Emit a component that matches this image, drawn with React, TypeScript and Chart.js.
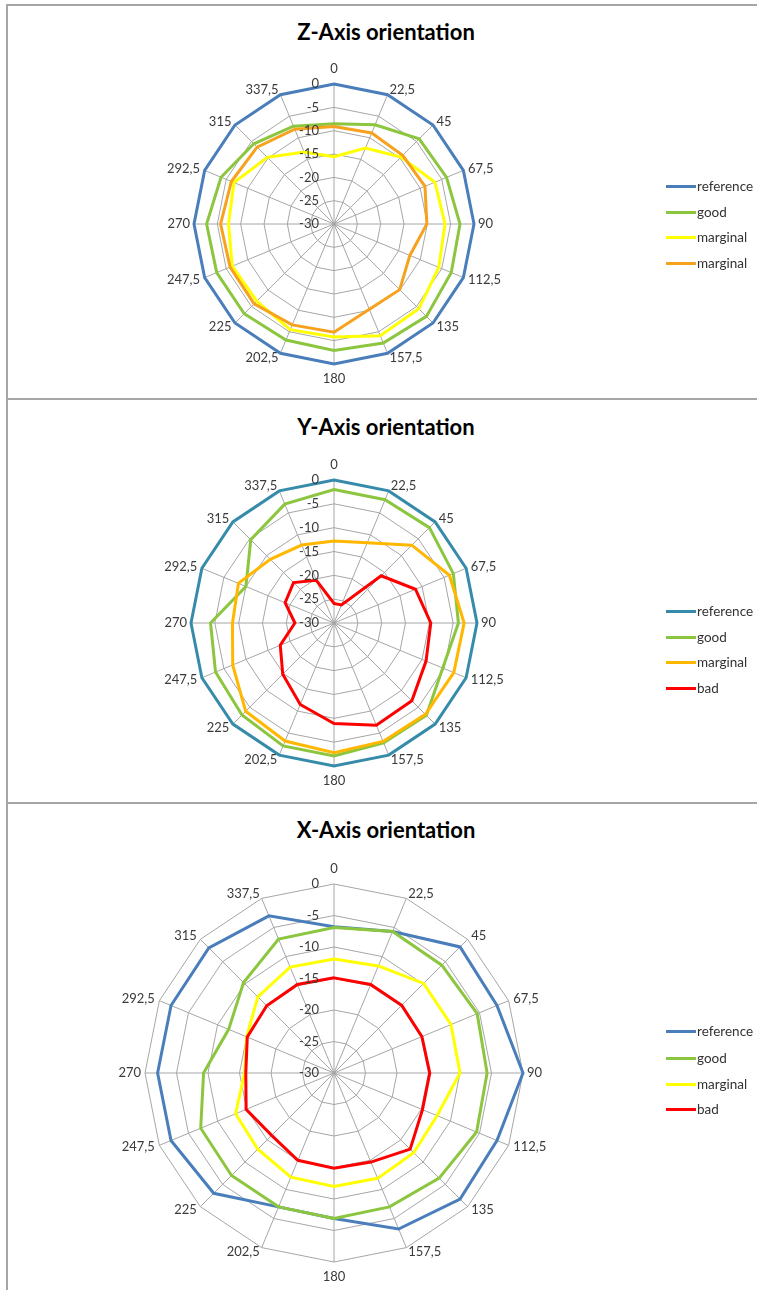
import React, { useEffect, useRef } from "react";
import { Chart, registerables } from "chart.js";

Chart.register(...registerables);

// ---------- data ----------
const angleLabels = ["0", "22,5", "45", "67,5", "90", "112,5", "135", "157,5", "180", "202,5", "225", "247,5", "270", "292,5", "315", "337,5"];

const zReference = [0, 0, 0, 0, 0, 0, 0, 0, 0, 0, 0, 0, 0, 0, 0, 0];
const zGood = [-8.5, -7.0, -4.2, -3.9, -3.0, -2.8, -2.0, -2.4, -2.9, -3.1, -2.8, -2.8, -2.7, -3.8, -5.7, -7.3];
const zMarginalYellow = [-15.6, -12.4, -9.7, -6.6, -6.2, -5.7, -4.3, -4.1, -5.8, -5.5, -6.6, -6.4, -7.4, -6.8, -9.8, -13.3];
const zMarginalOrange = [-9.1, -8.9, -9.2, -8.9, -10.1, -12.4, -10.1, -10.2, -6.8, -6.6, -5.8, -5.9, -5.7, -6.2, -6.7, -8.0];

const yReference = [0, 0, 0, 0, 0, 0, 0, 0, 0, 0, 0, 0, 0, 0, 0, 0];
const yGood = [-2.0, -2.0, -1.7, -2.9, -3.9, -5.3, -2.6, -2.8, -2.1, -2.1, -2.7, -3.1, -4.1, -10.0, -5.3, -3.0];
const yMarginal = [-12.8, -11.8, -6.9, -3.8, -2.7, -2.8, -2.9, -3.1, -2.8, -3.2, -3.8, -7.0, -8.7, -8.3, -11.1, -12.3];
const yBad = [-25.9, -25.9, -16.0, -11.5, -9.7, -9.1, -6.9, -6.8, -8.9, -11.5, -14.8, -17.8, -21.8, -18.9, -18.0, -20.3];

const xReference = [-6.8, -5.7, -1.7, -2.0, 0, -2.0, -1.7, -3.2, -6.9, -7.0, -3.0, -2.0, -2.0, -2.0, -1.9, -3.0];
const xGood = [-6.9, -5.7, -5.8, -5.4, -5.7, -5.5, -6.4, -7.0, -6.9, -7.0, -7.0, -7.1, -9.3, -11.9, -9.7, -7.0];
const xMarginal = [-11.9, -11.6, -9.9, -9.9, -10.0, -12.3, -12.1, -11.9, -12.0, -12.1, -12.9, -13.1, -15.8, -15.0, -12.9, -11.8];
const xBad = [-14.9, -14.8, -14.8, -14.9, -14.8, -14.8, -12.9, -14.7, -14.9, -15.0, -16.0, -14.9, -16.0, -15.1, -14.9, -14.8];

const scaleMin = -30;
const scaleMax = 0;
const scaleStep = 5;

// ---------- styles ----------
const BLUE = "#4A7EBB";
const TEAL = "#378BAA";
const GREEN = "#8CC63F";
const YELLOW = "#FFFF00";
const ORANGE1 = "#F7A21E";
const ORANGE2 = "#FFB700";
const RED = "#FF0000";
const FONT = "Lato, 'Open Sans', sans-serif";
const TEXT = "#3A3A3A";

type Series = { label: string; data: number[]; color: string };

const tickLabelPlugin = {
  id: "tickLabelPlugin",
  afterDatasetsDraw(chart: any) {
    const scale = chart.scales.r;
    const ctx = chart.ctx;
    ctx.save();
    ctx.font = "13px " + FONT;
    ctx.fillStyle = TEXT;
    ctx.textAlign = "right";
    ctx.textBaseline = "middle";
    scale.ticks.forEach((t: any) => {
      const d = scale.getDistanceFromCenterForValue(t.value);
      ctx.fillText(String(t.value), scale.xCenter - 15, scale.yCenter - d);
    });
    ctx.restore();
  },
};

function RadarPanel(props: { top: number; height: number; series: Series[] }) {
  const ref = useRef<HTMLCanvasElement | null>(null);
  useEffect(() => {
    if (!ref.current) return;
    const n = props.series.length;
    const chart = new Chart(ref.current, {
      type: "radar",
      data: {
        labels: angleLabels,
        datasets: props.series.map((s, i) => ({
          label: s.label,
          data: s.data,
          borderColor: s.color,
          backgroundColor: "rgba(0,0,0,0)",
          borderWidth: 3,
          pointRadius: 0,
          pointHoverRadius: 0,
          fill: false,
          tension: 0,
          order: n - i,
        })),
      },
      options: {
        responsive: false,
        animation: false,
        devicePixelRatio: 1,
        layout: { padding: { left: 0, right: 89, top: 10, bottom: 10 } },
        plugins: { legend: { display: false }, title: { display: false }, tooltip: { enabled: false } },
        scales: {
          r: {
            min: scaleMin,
            max: scaleMax,
            ticks: { stepSize: scaleStep, display: false },
            grid: { color: "#A6A6A6", lineWidth: 1 },
            angleLines: { color: "#A6A6A6", lineWidth: 1 },
            pointLabels: {
              color: TEXT,
              font: { family: FONT, size: 13, lineHeight: 0 },
              padding: (ctx: any) => {
                const i = ctx.index;
                if (i === 0 || i === 8) return 15;
                if (i === 4 || i === 12) return 4;
                return 5;
              },
            },
          },
        },
      },
      plugins: [tickLabelPlugin],
    } as any);
    return () => chart.destroy();
  }, []);
  return (
    <canvas
      ref={ref}
      width={757}
      height={props.height}
      style={{ position: "absolute", left: 0, top: props.top, width: 757, height: props.height, display: "block" }}
    />
  );
}

function Title(props: { text: string; cy: number }) {
  return (
    <div
      style={{
        position: "absolute",
        left: 16,
        width: 740,
        top: props.cy - 14,
        height: 28,
        lineHeight: "28px",
        textAlign: "center",
        fontFamily: FONT,
        fontWeight: 700,
        fontSize: 22,
        color: "#000",
      }}
    >
      {props.text}
    </div>
  );
}

function Legend(props: { series: Series[]; ys: number[] }) {
  return (
    <>
      {props.series.map((s, i) => (
        <div key={i} style={{ position: "absolute", left: 666, top: props.ys[i] - 10, height: 20, width: 91 }}>
          <div style={{ position: "absolute", left: 0, top: 9, width: 30, height: 3, background: s.color }} />
          <div
            style={{
              position: "absolute",
              left: 31,
              top: 0,
              height: 20,
              lineHeight: "20px",
              fontFamily: FONT,
              fontSize: 13.5,
              color: "#333",
              whiteSpace: "nowrap",
            }}
          >
            {s.label}
          </div>
        </div>
      ))}
    </>
  );
}

const zSeries: Series[] = [
  { label: "reference", data: zReference, color: BLUE },
  { label: "good", data: zGood, color: GREEN },
  { label: "marginal", data: zMarginalYellow, color: YELLOW },
  { label: "marginal", data: zMarginalOrange, color: ORANGE1 },
];
const ySeries: Series[] = [
  { label: "reference", data: yReference, color: TEAL },
  { label: "good", data: yGood, color: GREEN },
  { label: "marginal", data: yMarginal, color: ORANGE2 },
  { label: "bad", data: yBad, color: RED },
];
const xSeries: Series[] = [
  { label: "reference", data: xReference, color: BLUE },
  { label: "good", data: xGood, color: GREEN },
  { label: "marginal", data: xMarginal, color: YELLOW },
  { label: "bad", data: xBad, color: RED },
];

export default function App() {
  const line = "#A6A6A6";
  return (
    <div style={{ position: "absolute", left: 0, top: 0, width: 757, height: 1290, overflow: "hidden", background: "#fff" }}>
      <div style={{ position: "absolute", left: 6, top: 4, width: 751, height: 2, background: line }} />
      <div style={{ position: "absolute", left: 6, top: 4, width: 2, height: 1286, background: line }} />
      <div style={{ position: "absolute", left: 6, top: 398, width: 751, height: 2, background: line }} />
      <div style={{ position: "absolute", left: 6, top: 802, width: 751, height: 2, background: line }} />

      <RadarPanel top={59} height={330} series={zSeries} />
      <Title text="Z-Axis orientation" cy={32} />
      <Legend series={zSeries} ys={[186, 212, 237, 263]} />

      <RadarPanel top={455} height={336} series={ySeries} />
      <Title text="Y-Axis orientation" cy={427} />
      <Legend series={ySeries} ys={[611, 637, 662, 688]} />

      <RadarPanel top={859} height={428} series={xSeries} />
      <Title text="X-Axis orientation" cy={830} />
      <Legend series={xSeries} ys={[1031, 1058, 1084, 1109]} />
    </div>
  );
}
